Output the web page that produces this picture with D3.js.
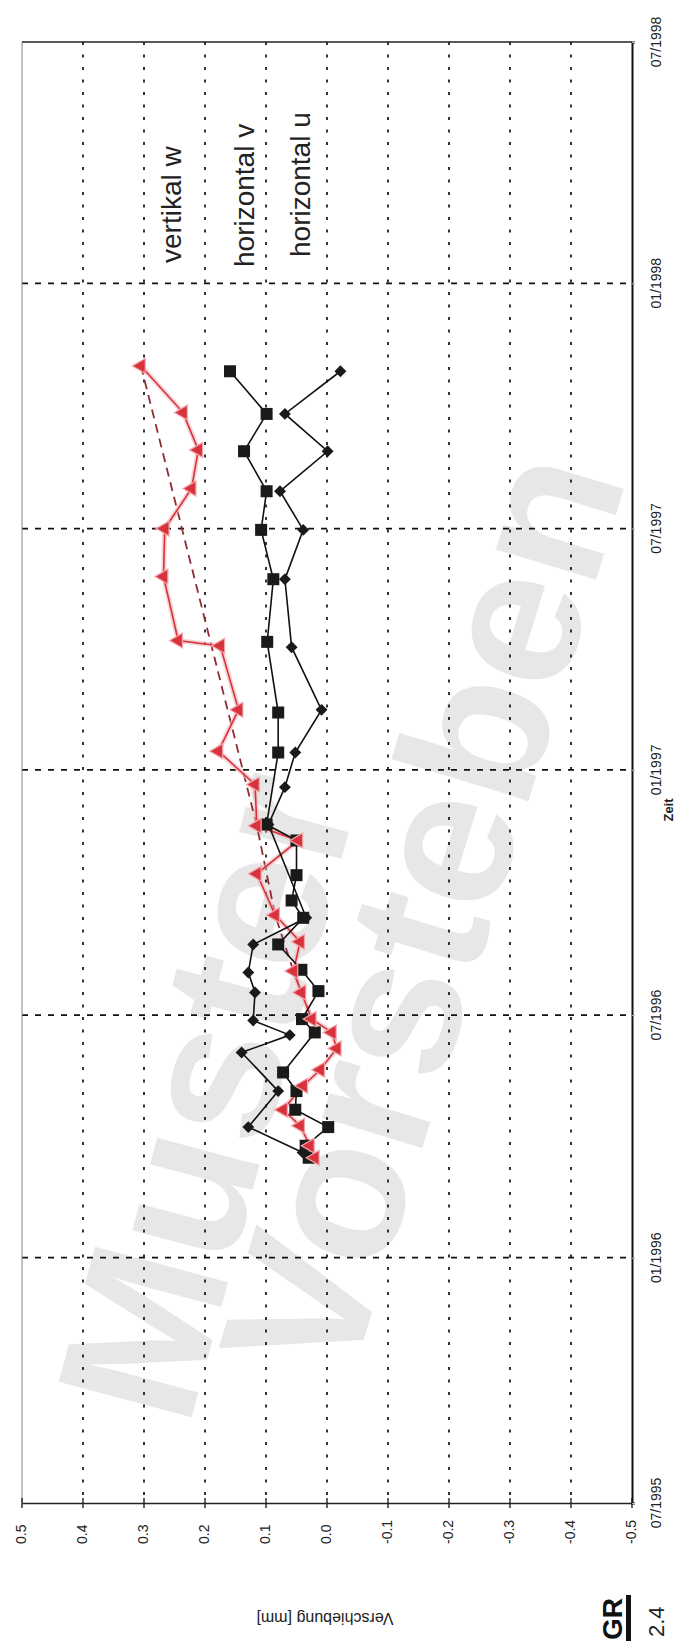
<!DOCTYPE html>
<html>
<head>
<meta charset="utf-8">
<script src="https://cdn.jsdelivr.net/npm/d3@7"></script>
<style>
  body { margin: 0; background: #fff; }
  svg { display: block; }
  text { font-family: Arial, "Liberation Sans", Helvetica, sans-serif; }
</style>
</head>
<body>
<svg id="chart" width="699" height="1641"></svg>
<script>
// Axis ticks
const valueTicks = [0.5, 0.4, 0.3, 0.2, 0.1, 0.0, -0.1, -0.2, -0.3, -0.4, -0.5];
const valueTickLabels = ["0.5", "0.4", "0.3", "0.2", "0.1", "0.0", "-0.1", "-0.2", "-0.3", "-0.4", "-0.5"];
const timeTicks = ["1995-07-01", "1996-01-01", "1996-07-01", "1997-01-01", "1997-07-01", "1998-01-01", "1998-07-01"];
const timeTickLabels = ["07/1995", "01/1996", "07/1996", "01/1997", "07/1997", "01/1998", "07/1998"];

// horizontal v (squares)
const vDates = ["1997-10-27", "1997-09-25", "1997-08-28", "1997-07-29", "1997-06-30", "1997-05-24", "1997-04-07",
  "1997-02-13", "1997-01-14", "1996-11-21", "1996-11-09", "1996-10-14", "1996-09-25", "1996-09-12", "1996-08-23",
  "1996-08-04", "1996-07-19", "1996-06-28", "1996-06-18", "1996-05-19", "1996-05-05", "1996-04-21", "1996-04-08",
  "1996-03-25", "1996-03-16"];
const vValues = [0.159, 0.099, 0.136, 0.099, 0.108, 0.088, 0.098,
  0.080, 0.080, 0.099, 0.050, 0.050, 0.058, 0.039, 0.080,
  0.042, 0.014, 0.041, 0.020, 0.072, 0.050, 0.052, -0.002,
  0.035, 0.030];

// horizontal u (diamonds)
const uDates = ["1997-10-27", "1997-09-25", "1997-08-28", "1997-07-29", "1997-06-30", "1997-05-24", "1997-04-03",
  "1997-02-15", "1997-01-14", "1996-12-19", "1996-11-21", "1996-09-12", "1996-08-23", "1996-08-02", "1996-07-18",
  "1996-06-27", "1996-06-16", "1996-06-03", "1996-05-05", "1996-04-08", "1996-03-20"];
const uValues = [-0.022, 0.069, -0.001, 0.077, 0.039, 0.069, 0.058,
  0.009, 0.052, 0.069, 0.096, 0.034, 0.121, 0.129, 0.118,
  0.121, 0.061, 0.140, 0.080, 0.129, 0.040];

// vertikal w (triangles)
const wDates = ["1997-10-31", "1997-09-26", "1997-08-29", "1997-07-31", "1997-07-01", "1997-05-26", "1997-04-08",
  "1997-04-04", "1997-02-15", "1997-01-15", "1996-12-21", "1996-11-20", "1996-11-09", "1996-10-15", "1996-09-14",
  "1996-08-25", "1996-08-03", "1996-07-18", "1996-06-28", "1996-06-18", "1996-06-06", "1996-05-21", "1996-05-09",
  "1996-04-21", "1996-04-09", "1996-03-25", "1996-03-16"];
const wValues = [0.305, 0.236, 0.211, 0.222, 0.266, 0.268, 0.244,
  0.175, 0.145, 0.178, 0.118, 0.115, 0.047, 0.115, 0.085,
  0.044, 0.055, 0.042, 0.025, -0.008, -0.016, 0.011, 0.039,
  0.072, 0.044, 0.028, 0.020];

// vertikal w, dashed run
const wDashDates = ["1997-10-31", "1996-11-20", "1996-09-14", "1996-08-03", "1996-06-28"];
const wDashValues = [0.305, 0.115, 0.085, 0.055, 0.025];

const seriesLabels = ["vertikal w", "horizontal v", "horizontal u"];
const watermarkWords = ["Muster", "Vorsteben"];

const parse = d3.timeParse("%Y-%m-%d");
const svg = d3.select("#chart");

const frame = { left: 22, right: 632, top: 42, bottom: 1503 };
const x = d3.scaleLinear().domain([0.5, -0.5]).range([frame.left, frame.right]);
const y = d3.scaleTime().domain([parse("1995-07-01"), parse("1998-07-01")]).range([frame.bottom, frame.top]);

// Watermark
const wm = svg.append("g").attr("fill", "#e7e7e7").attr("font-weight", "bold");
wm.append("text").attr("transform", "translate(222,1100) rotate(-75)")
  .attr("text-anchor", "middle").attr("dominant-baseline", "middle")
  .attr("font-size", 200).text(watermarkWords[0]);
wm.append("text").attr("transform", "translate(438,918) rotate(-73)")
  .attr("text-anchor", "middle").attr("dominant-baseline", "middle")
  .attr("font-size", 198).text(watermarkWords[1]);

// Grid
const grid = svg.append("g");
grid.selectAll("line.vg").data(valueTicks.slice(1, -1)).join("line")
  .attr("x1", d => x(d)).attr("x2", d => x(d))
  .attr("y1", frame.top).attr("y2", frame.bottom)
  .attr("stroke", "#111").attr("stroke-width", 1.7).attr("stroke-dasharray", "3,9.5");
grid.selectAll("line.hg").data(timeTicks.slice(1, -1)).join("line")
  .attr("x1", frame.left).attr("x2", frame.right)
  .attr("y1", d => y(parse(d))).attr("y2", d => y(parse(d)))
  .attr("stroke", "#111").attr("stroke-width", 1.7).attr("stroke-dasharray", "6,7");

// Frame
svg.append("line").attr("x1", frame.left).attr("x2", frame.left).attr("y1", frame.top).attr("y2", frame.bottom)
  .attr("stroke", "#888").attr("stroke-width", 1);
svg.append("line").attr("x1", frame.left).attr("x2", frame.right).attr("y1", frame.top).attr("y2", frame.top)
  .attr("stroke", "#222").attr("stroke-width", 1.6);

// Value axis (bottom)
const xAxis = d3.axisBottom(x).tickValues(valueTicks).tickSize(0).tickFormat("");
svg.append("g").attr("transform", `translate(0,${frame.bottom})`).call(xAxis)
  .call(g => g.select(".domain").attr("stroke", "#222").attr("stroke-width", 1.6));
svg.append("g").selectAll("line").data(valueTicks).join("line")
  .attr("x1", d => x(d)).attr("x2", d => x(d))
  .attr("y1", frame.bottom - 5).attr("y2", frame.bottom + 5)
  .attr("stroke", "#222").attr("stroke-width", 1.4);
svg.append("g").selectAll("text").data(valueTicks).join("text")
  .attr("transform", d => `translate(${x(d)},${frame.bottom + 41}) rotate(-90)`)
  .attr("text-anchor", "start").attr("dominant-baseline", "middle")
  .attr("font-size", 14).attr("fill", "#222")
  .text((d, i) => valueTickLabels[i]);

// Time axis (right)
const yAxis = d3.axisRight(y).tickValues(timeTicks.map(parse)).tickSize(3).tickFormat("");
svg.append("g").attr("transform", `translate(${frame.right},0)`).call(yAxis)
  .call(g => g.select(".domain").attr("stroke", "#111").attr("stroke-width", 2))
  .call(g => g.selectAll(".tick line").attr("stroke", "#bbb"));
svg.append("g").selectAll("text").data(timeTicks).join("text")
  .attr("transform", d => `translate(${657},${y(parse(d))}) rotate(-90)`)
  .attr("text-anchor", "middle").attr("dominant-baseline", "middle")
  .attr("font-size", 14).attr("fill", "#222")
  .text((d, i) => timeTickLabels[i]);

// Series
const line = d3.line().x(d => x(d.v)).y(d => y(d.t));
const zip = (ds, vs) => ds.map((d, i) => ({ t: parse(d), v: vs[i] }));
const vData = zip(vDates, vValues);
const uData = zip(uDates, uValues);
const wData = zip(wDates, wValues);
const wDash = zip(wDashDates, wDashValues);

const red = "#d8323c";
svg.append("path").datum(wDash).attr("d", line).attr("fill", "none")
  .attr("stroke", "#8e2c34").attr("stroke-width", 1.8).attr("stroke-dasharray", "9,6");
svg.append("path").datum(wData).attr("d", line).attr("fill", "none")
  .attr("stroke", "#f3b5ba").attr("stroke-width", 5).attr("stroke-opacity", 0.6);
svg.append("path").datum(wData).attr("d", line).attr("fill", "none")
  .attr("stroke", red).attr("stroke-width", 1.6);

svg.append("path").datum(uData).attr("d", line).attr("fill", "none").attr("stroke", "#111").attr("stroke-width", 1.6);
svg.append("path").datum(vData).attr("d", line).attr("fill", "none").attr("stroke", "#111").attr("stroke-width", 1.6);

svg.append("g").selectAll("rect").data(vData).join("rect")
  .attr("x", d => x(d.v) - 6).attr("y", d => y(d.t) - 6)
  .attr("width", 12).attr("height", 12).attr("fill", "#1a1a1a");

svg.append("g").selectAll("path").data(uData).join("path")
  .attr("d", d3.symbol(d3.symbolDiamond2, 90))
  .attr("transform", d => `translate(${x(d.v)},${y(d.t)})`)
  .attr("fill", "#1a1a1a");

const tri = d3.symbol(d3.symbolTriangle, 70);
svg.append("g").selectAll("path").data(wData).join("path")
  .attr("d", tri)
  .attr("transform", d => `translate(${x(d.v)},${y(d.t)}) rotate(-90)`)
  .attr("fill", red).attr("stroke", "#f3a3aa").attr("stroke-width", 2.5).attr("paint-order", "stroke");

// Series names
const labelPos = [[181, 263], [254, 267], [310, 257]];
svg.append("g").selectAll("text").data(seriesLabels).join("text")
  .attr("transform", (d, i) => `translate(${labelPos[i][0]},${labelPos[i][1]}) rotate(-90)`)
  .attr("text-anchor", "start").attr("font-size", 28).attr("fill", "#222")
  .text(d => d);

// Axis titles
svg.append("text").attr("transform", "translate(670,810) rotate(-90)")
  .attr("text-anchor", "middle").attr("dominant-baseline", "middle")
  .attr("font-size", 13).attr("font-weight", "bold").attr("fill", "#222").text("Zeit");
svg.append("text").attr("transform", "translate(325,1617) rotate(180)")
  .attr("text-anchor", "middle").attr("dominant-baseline", "middle")
  .attr("font-size", 16).attr("fill", "#222").text("Verschiebung [mm]");

// Page marks
svg.append("text").attr("transform", "translate(622,1598) rotate(-90)")
  .attr("text-anchor", "end").attr("font-size", 28).attr("font-weight", "bold").attr("fill", "#111").text("GR");
svg.append("rect").attr("x", 626).attr("y", 1595).attr("width", 5).attr("height", 46).attr("fill", "#111");
svg.append("text").attr("transform", "translate(664,1637) rotate(-90)")
  .attr("text-anchor", "start").attr("font-size", 22).attr("fill", "#222").text("2.4");
</script>
</body>
</html>
